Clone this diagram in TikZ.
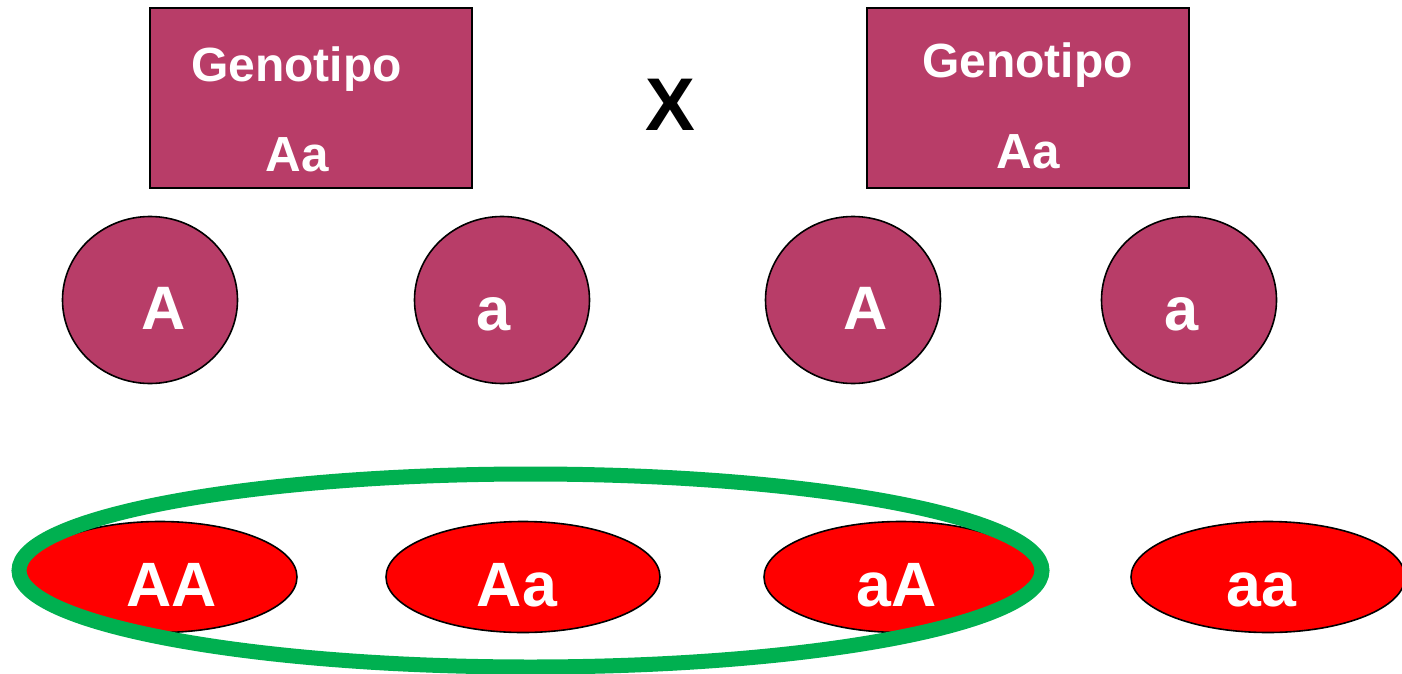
\documentclass[tikz,border=0pt]{standalone}
\usepackage{fontspec}
\setmainfont{Liberation Sans}
\usetikzlibrary{shapes.geometric}

\definecolor{maroon}{RGB}{184,61,104}
\definecolor{crossgreen}{RGB}{0,176,80}

\tikzset{every picture/.style={line width=0.75pt}}
\tikzset{
  genobox/.style={draw=black, line width=1.5pt, fill=maroon, rectangle, minimum width=241.5pt, minimum height=135pt, inner sep=0pt},
  gamete/.style={draw=black, line width=1.2pt, fill=maroon, ellipse, minimum width=131.25pt, minimum height=125.25pt, inner sep=0pt},
  zygote/.style={draw=black, line width=1.2pt, fill=red, ellipse, minimum width=205.5pt, minimum height=83.25pt, inner sep=0pt},
  grouping/.style={draw=crossgreen, line width=11.25pt, ellipse, minimum width=767.25pt, minimum height=144.75pt, inner sep=0pt},
  boxtxt/.style={anchor=base, inner sep=0.75pt, text=white, font=\fontsize{36}{40}\selectfont\bfseries},
  bigtxt/.style={anchor=base, inner sep=0.75pt, text=white, font=\fontsize{47}{50}\selectfont\bfseries},
}

\begin{document}
\begin{tikzpicture}[x=0.75pt,y=0.75pt,yscale=-1,xscale=1]
\useasboundingbox (0,0) rectangle (1402,674);

%Shape: Rectangle [parent 1]
\node [genobox] (boxL) at (311,98) {};
%Shape: Rectangle [parent 2]
\node [genobox] (boxR) at (1028,98) {};

%Shape: Circle [gametes]
\node [gamete] (gamL1) at (150,300) {};
\node [gamete] (gamL2) at (502,300) {};
\node [gamete] (gamR1) at (853,300) {};
\node [gamete] (gamR2) at (1189,300) {};

%Shape: Ellipse [offspring]
\node [zygote] (offAA) at (160,577) {};
\node [zygote] (offAa) at (523,577) {};
\node [zygote] (offaA) at (901,577) {};
\node [zygote] (offaa) at (1268,577) {};

%Shape: Ellipse [dominant group]
\node [grouping] (domgroup) at (530.5,570.5) {};

% Text Node
\node [boxtxt] (genL) at (296.5,81) {Genotipo};
% Text Node
\node [boxtxt, font=\fontsize{37}{40}\selectfont\bfseries] (genLval) at (297,171) {Aa};
% Text Node
\node [boxtxt] (genR) at (1027.5,78) {Genotipo};
% Text Node
\node [boxtxt, font=\fontsize{37}{40}\selectfont\bfseries] (genRval) at (1028,168) {Aa};
% Text Node
\node [anchor=base, inner sep=0.75pt, font=\fontsize{56}{60}\selectfont\bfseries] (cross) at (670,130) {X};

% Text Node
\node [bigtxt, font=\fontsize{46}{50}\selectfont\bfseries] (txtL1) at (163.5,329) {A};
% Text Node
\node [bigtxt, font=\fontsize{46}{50}\selectfont\bfseries] (txtL2) at (494,330) {a};
% Text Node
\node [bigtxt, font=\fontsize{46}{50}\selectfont\bfseries] (txtR1) at (866,329) {A};
% Text Node
\node [bigtxt, font=\fontsize{46}{50}\selectfont\bfseries] (txtR2) at (1182,330) {a};

% Text Node
\node [bigtxt] (txtAA) at (171.5,606.5) {AA};
% Text Node
\node [bigtxt] (txtAa) at (517,606.5) {Aa};
% Text Node
\node [bigtxt] (txtaA) at (897,606.5) {aA};
% Text Node
\node [bigtxt] (txtaa) at (1261,606.5) {aa};

\end{tikzpicture}
\end{document}
